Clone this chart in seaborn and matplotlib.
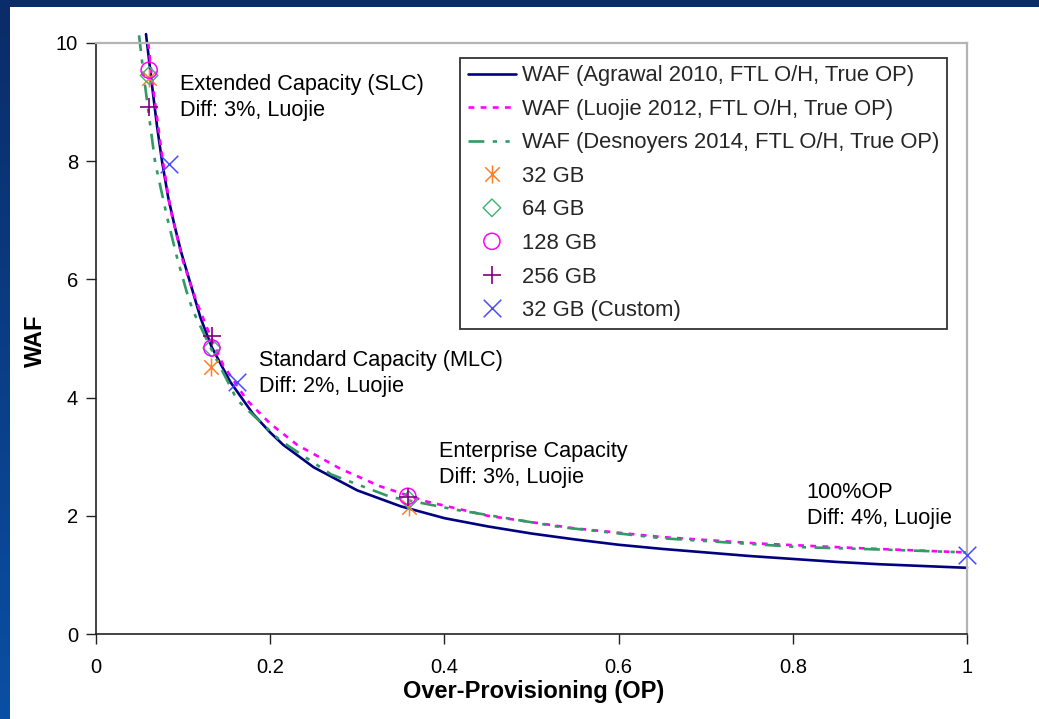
import numpy as np
import matplotlib
matplotlib.use("Agg")
import matplotlib.pyplot as plt
from matplotlib.path import Path
from matplotlib.patches import Rectangle
from matplotlib.ticker import FormatStrFormatter
import seaborn as sns

# ---- WAF model curves (over-provisioning vs write amplification) ----
agrawal_op = [0.0574, 0.065, 0.07, 0.0758, 0.083, 0.09, 0.098, 0.108, 0.12, 0.133,
              0.154, 0.18, 0.2, 0.215, 0.25, 0.3, 0.35, 0.4, 0.45, 0.5, 0.55, 0.6,
              0.65, 0.7, 0.75, 0.8, 0.85, 0.9, 0.95, 1.0]
agrawal_waf = [10.15, 9.2, 8.6, 8.0, 7.38, 6.92, 6.45, 5.95, 5.35, 4.85,
               4.27, 3.73, 3.41, 3.20, 2.82, 2.43, 2.16, 1.96, 1.82, 1.70, 1.60, 1.51,
               1.44, 1.38, 1.32, 1.27, 1.22, 1.18, 1.15, 1.12]

luojie_op = [0.060, 0.065, 0.0758, 0.085, 0.1, 0.116, 0.133, 0.146, 0.173, 0.2,
             0.231, 0.28, 0.326, 0.38, 0.45, 0.548, 0.65, 0.762, 0.88, 1.0]
luojie_waf = [10.0, 9.3, 8.1, 7.22, 6.3, 5.6, 4.98, 4.55, 3.96, 3.56,
              3.2, 2.8, 2.5, 2.24, 2.0, 1.79, 1.64, 1.53, 1.45, 1.38]

desnoyers_op = [0.0494, 0.054, 0.0585, 0.068, 0.0815, 0.0925, 0.1045, 0.111, 0.133,
                0.162, 0.211, 0.27, 0.338, 0.414, 0.533, 0.65, 0.808, 0.9, 1.0]
desnoyers_waf = [10.13, 9.55, 9.03, 7.97, 7.06, 6.4, 5.77, 5.48, 4.8,
                 3.96, 3.28, 2.7, 2.32, 2.10, 1.81, 1.62, 1.47, 1.43, 1.38]

# ---- measured drives ----
gb32_op, gb32_waf = [0.061, 0.132, 0.359], [9.41, 4.52, 2.15]
gb64_op, gb64_waf = [0.061, 0.133, 0.359], [9.45, 4.84, 2.27]
gb128_op, gb128_waf = [0.061, 0.133, 0.358], [9.54, 4.84, 2.33]
gb256_op, gb256_waf = [0.061, 0.133, 0.358], [8.92, 5.04, 2.32]
custom_op, custom_waf = [0.0838, 0.162, 1.0], [7.95, 4.26, 1.34]

x_ticks = [0, 0.2, 0.4, 0.6, 0.8, 1]
y_ticks = [0, 2, 4, 6, 8, 10]

notes = [
    (0.0964, 9.47, "Extended Capacity (SLC)\nDiff: 3%, Luojie"),
    (0.1871, 4.81, "Standard Capacity (MLC)\nDiff: 2%, Luojie"),
    (0.394, 3.27, "Enterprise Capacity\nDiff: 3%, Luojie"),
    (0.816, 2.58, "100%OP\nDiff: 4%, Luojie"),
]

sns.set_theme(style="white")
plt.rcParams["font.family"] = ["Liberation Sans", "DejaVu Sans"]

W, H = 1039, 719
fig = plt.figure(figsize=(W / 100, H / 100), dpi=100, facecolor="white")

# slide frame: blue bar along the top and a vertical gradient bar on the left
bar = fig.add_axes([0, 0, 10 / W, 1])
grad = np.linspace(0, 1, 256).reshape(-1, 1)
top_c = np.array([0x0a, 0x2c, 0x68]) / 255
bot_c = np.array([0x0b, 0x4f, 0xa4]) / 255
img = top_c[None, None, :] * (1 - grad[:, :, None]) + bot_c[None, None, :] * grad[:, :, None]
bar.imshow(img, aspect="auto", extent=[0, 1, 0, 1], origin="upper")
bar.set_axis_off()
fig.patches.append(Rectangle((0, 1 - 7 / H), 1, 7 / H, transform=fig.transFigure,
                             facecolor="#0a2c68", edgecolor="none", zorder=5))

ax = fig.add_axes([96 / W, 1 - 634 / H, (967 - 96) / W, (634 - 43) / H])
ax.set_facecolor("white")

lw = 1.9
sns.lineplot(x=agrawal_op, y=agrawal_waf, ax=ax, color="#000080", linewidth=lw,
             estimator=None, sort=False, clip_on=False,
             label="WAF (Agrawal 2010, FTL O/H, True OP)")
sns.lineplot(x=luojie_op, y=luojie_waf, ax=ax, color="#ff00ff", linewidth=lw,
             estimator=None, sort=False, clip_on=False, linestyle=(0, (2.2, 2.4)),
             label="WAF (Luojie 2012, FTL O/H, True OP)")
sns.lineplot(x=desnoyers_op, y=desnoyers_waf, ax=ax, color="#339966", linewidth=lw,
             estimator=None, sort=False, clip_on=False,
             linestyle=(0, (6, 3.2, 1.6, 3.2, 1.6, 3.2)),
             label="WAF (Desnoyers 2014, FTL O/H, True OP)")

asterisk = Path([(0, -1), (0, 1), (-0.8, -0.8), (0.8, 0.8), (-0.8, 0.8), (0.8, -0.8)],
                [Path.MOVETO, Path.LINETO] * 3)

sns.scatterplot(x=gb32_op, y=gb32_waf, ax=ax, marker=asterisk, s=170, color="#ff7f27",
                edgecolor="#ff7f27", linewidth=1.1, label="32 GB", zorder=4)
sns.scatterplot(x=gb64_op, y=gb64_waf, ax=ax, marker="D", s=80, color="#3cb371",
                facecolor="none", edgecolor="#3cb371", linewidth=1.0, label="64 GB", zorder=4)
sns.scatterplot(x=gb128_op, y=gb128_waf, ax=ax, marker="o", s=135, color="#ff00ff",
                facecolor="none", edgecolor="#ff00ff", linewidth=1.1, label="128 GB", zorder=4)
sns.scatterplot(x=gb256_op, y=gb256_waf, ax=ax, marker="+", s=160, color="#800080",
                linewidth=1.2, label="256 GB", zorder=4)
sns.scatterplot(x=custom_op, y=custom_waf, ax=ax, marker="x", s=160, color="#4a4aff",
                linewidth=1.1, label="32 GB (Custom)", zorder=4, clip_on=False)

ax.set_xlim(0, 1)
ax.set_ylim(0, 10)
ax.set_xticks(x_ticks)
ax.set_yticks(y_ticks)
ax.xaxis.set_major_formatter(FormatStrFormatter("%g"))
ax.yaxis.set_major_formatter(FormatStrFormatter("%g"))
ax.tick_params(axis="both", which="major", direction="out", length=7, width=1.0,
               colors="#222222", labelsize=14.5, labelcolor="black")
ax.tick_params(axis="x", pad=10, bottom=True)
ax.tick_params(axis="y", pad=6, left=True)
ax.grid(False)

for side in ("left", "bottom"):
    ax.spines[side].set_color("#222222")
    ax.spines[side].set_linewidth(1.2)
for side in ("top", "right"):
    ax.spines[side].set_color("#b4b4b4")
    ax.spines[side].set_linewidth(1.6)

ax.set_xlabel("Over-Provisioning (OP)", fontsize=17, fontweight="bold", color="black")
ax.set_ylabel("WAF", fontsize=17, fontweight="bold", color="black")
ax.xaxis.set_label_coords(0.503, -0.078)
ax.yaxis.set_label_coords(-0.056, 0.497)

for x, y, t in notes:
    ax.text(x, y, t, fontsize=15.6, color="black", ha="left", va="top", linespacing=1.32)

leg = ax.legend(loc="upper left", bbox_to_anchor=(0.418, 0.975), borderaxespad=0,
                fontsize=15.8, frameon=True, fancybox=False, edgecolor="#333333",
                handlelength=2.2, handletextpad=0.25, borderpad=0.35,
                labelspacing=0.57, scatterpoints=1, scatteryoffsets=[0.5])
leg.get_frame().set_linewidth(1.3)
leg.get_frame().set_facecolor("white")
leg.get_frame().set_alpha(1)

fig.savefig("out.png", dpi=100, facecolor="white")
